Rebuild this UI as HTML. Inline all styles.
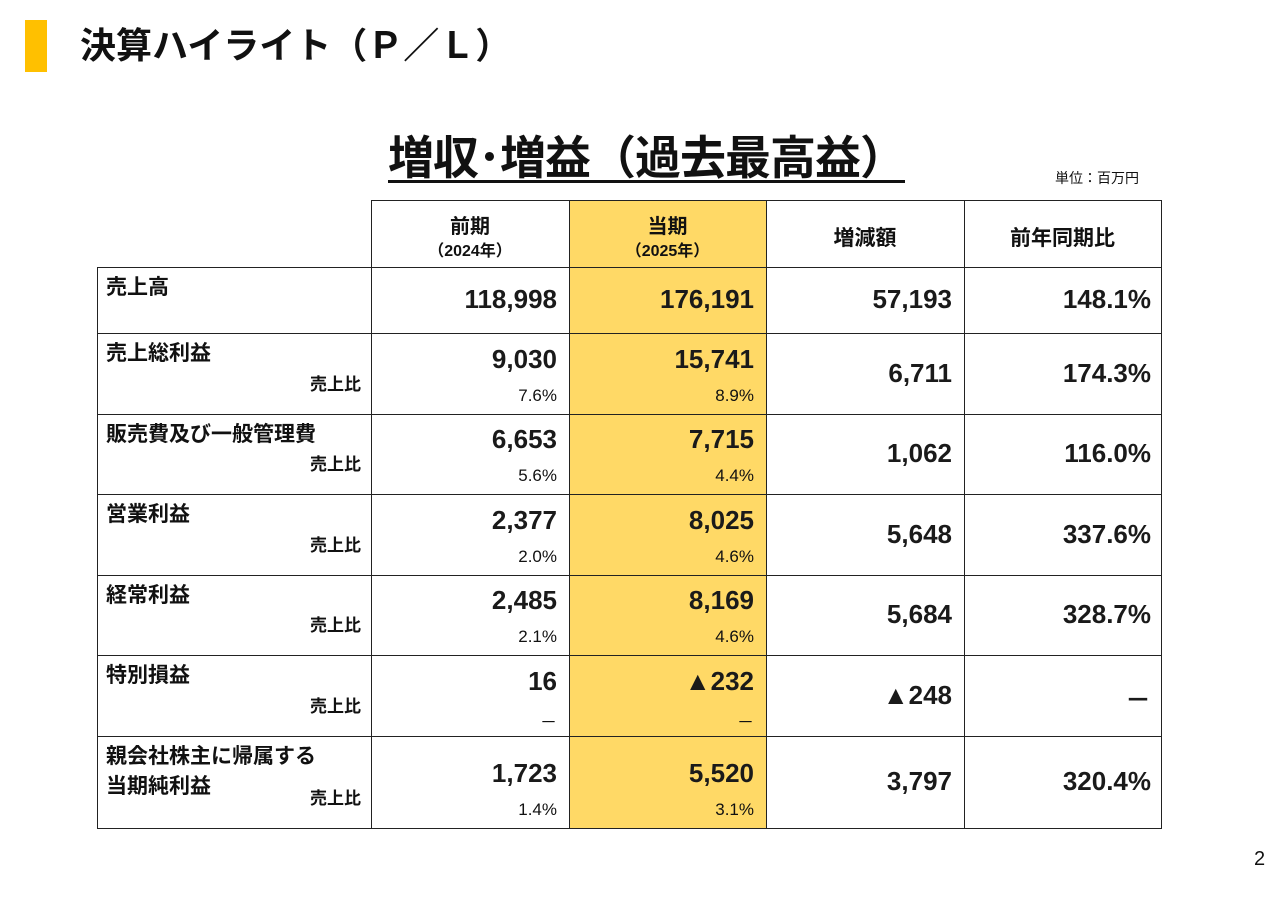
<!DOCTYPE html>
<html><head><meta charset="utf-8"><style>
body{margin:0;width:1280px;height:904px;background:#fff;position:relative;overflow:hidden;font-family:"Liberation Sans","Noto Sans CJK JP",sans-serif;color:#111}
.a{position:absolute;white-space:nowrap}
.cell{position:absolute;box-sizing:border-box;border:1.5px solid #222}
.num{font-size:26px;font-weight:700;text-align:right;color:#1a1a1a}
.pct{font-size:17px;text-align:right}
.lab{font-size:21px;font-weight:700}
.sub{font-size:17px;font-weight:700;text-align:right}
</style></head><body>
<div class="a" style="left:25px;top:20px;width:22px;height:52px;background:#FFC000"></div>
<div class="a" style="left:80px;top:22px;font-size:36px;font-weight:700;line-height:48px">決算ハイライト（Ｐ／Ｌ）</div>
<div class="a" style="left:388px;top:128px;font-size:46px;font-weight:700;line-height:60px;text-decoration:underline;text-underline-offset:6px;text-decoration-thickness:3px;letter-spacing:-1px">増収･増益（過去最高益）</div>
<div class="a" style="left:1055px;top:168px;font-size:14px">単位：百万円</div>
<div class="a" style="left:1254px;top:848px;font-size:20px">2</div>
<div id="tbl"></div>
<script>
const colX=[97,371,569,766,964,1161];
const rowY=[200,267,333,414,494,575,655,736,828];
const headers=[["前期","（2024年）"],["当期","（2025年）"],["増減額",""],["前年同期比",""]];
const labels=["売上高","売上総利益","販売費及び一般管理費","営業利益","経常利益","特別損益","親会社株主に帰属する<br>当期純利益"];
const prev=["118,998","9,030","6,653","2,377","2,485","16","1,723"];
const prevPct=["","7.6%","5.6%","2.0%","2.1%","－","1.4%"];
const cur=["176,191","15,741","7,715","8,025","8,169","▲232","5,520"];
const curPct=["","8.9%","4.4%","4.6%","4.6%","－","3.1%"];
const diff=["57,193","6,711","1,062","5,648","5,684","▲248","3,797"];
const ratio=["148.1%","174.3%","116.0%","337.6%","328.7%","－","320.4%"];
const t=document.getElementById('tbl');
function mk(cls,style,html){const d=document.createElement('div');d.className=cls;d.style.cssText=style;d.innerHTML=html;t.appendChild(d);return d;}
for(let c=0;c<4;c++){
 const x=colX[c+1],w=colX[c+2]-x;
 const el=mk('cell',`left:${x}px;top:${rowY[0]}px;width:${w+1}px;height:${rowY[1]-rowY[0]+1}px;background:${c==1?'#FFD966':'#fff'}`,'');
 
 
 const h=headers[c];
 if(h[1]){
  const a=mk('a',`left:${x}px;width:${w}px;top:${rowY[0]+10}px;text-align:center;font-size:20px;font-weight:700`,h[0]);
  
  
  const b=mk('a',`left:${x}px;width:${w}px;top:${rowY[0]+37}px;text-align:center;font-size:16px;font-weight:700`,h[1]);
  
  
 }else{
  const a=mk('a',`left:${x}px;width:${w}px;top:${rowY[0]+22}px;text-align:center;font-size:21px;font-weight:700`,h[0]);
  
  
 }
}
for(let r=0;r<labels.length;r++){
 const y=rowY[r+1],h=rowY[r+2]-y;
 for(let c=0;c<5;c++){
  const x=colX[c],w=colX[c+1]-x;
  const el=mk('cell',`left:${x}px;top:${y}px;width:${w+1}px;height:${h+1}px;background:${c==2?'#FFD966':'#fff'}`,'');
  
  
 }
 const l=mk('a lab',`left:106px;top:${y+6}px;line-height:30px`,labels[r]);
 
 
 const hasPct=r>0;
 if(hasPct){
  const s=mk('a sub',`left:${colX[0]}px;width:${colX[1]-colX[0]-10}px;top:${y+h-44}px`,'売上比');
  
  
 }
 const vals=[prev[r],cur[r]],pcts=[prevPct[r],curPct[r]];
 for(let k=0;k<2;k++){
  const x=colX[k+1],w=colX[k+2]-x-12;
  const numTop=hasPct?y+h-70:y+h/2-16;
  const n=mk('a num',`left:${x}px;width:${w}px;top:${numTop}px`,vals[k]);
  
  
  if(hasPct){
   const p=mk('a pct',`left:${x}px;width:${w}px;top:${y+h-28}px`,pcts[k]);
   
   
  }
 }
 const d=mk('a num',`left:${colX[3]}px;width:${colX[4]-colX[3]-12}px;top:${y+h/2-16}px`,diff[r]);
 
 
 const q=mk('a num',`left:${colX[4]}px;width:${colX[5]-colX[4]-10}px;top:${y+h/2-16}px`,ratio[r]);
 
 
}
</script>
</body></html>
